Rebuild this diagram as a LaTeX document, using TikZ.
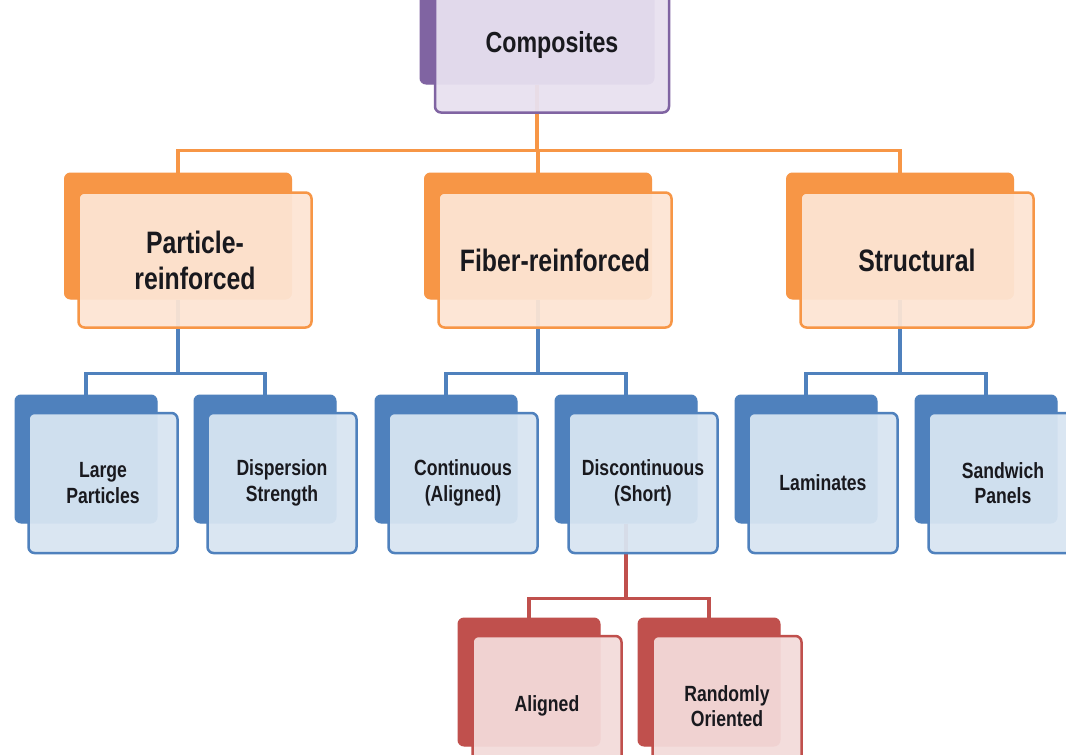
\documentclass[tikz,border=0pt]{standalone}
\usepackage{fontspec}
\setmainfont{Liberation Sans}[FakeStretch=0.8]
\definecolor{cpurple}{RGB}{128,100,162}
\definecolor{cpurplel}{RGB}{232,225,240}
\definecolor{corange}{RGB}{247,150,70}
\definecolor{corangel}{RGB}{253,229,212}
\definecolor{cblue}{RGB}{79,129,189}
\definecolor{cbluel}{RGB}{216,229,242}
\definecolor{cred}{RGB}{192,80,77}
\definecolor{credl}{RGB}{243,219,218}
\definecolor{ctext}{RGB}{25,25,30}
\usetikzlibrary{backgrounds,calc}

\begin{document}
\begin{tikzpicture}[x=1pt,y=-1pt,
    back/.style={rounded corners=6pt,fill=#1,draw=#1,line width=1pt,inner sep=0pt},
    front/.style 2 args={rounded corners=6pt,draw=#1,fill=#2,line width=2.5pt,
        fill opacity=0.94,text opacity=1,text=ctext,align=center,inner sep=0pt},
    bigback/.style={minimum width=227pt,minimum height=126pt},
    bigfront/.style={minimum width=233pt,minimum height=135pt,
        font=\fontsize{31}{36}\selectfont\bfseries},
    smallback/.style={minimum width=142pt,minimum height=128pt},
    smallfront/.style={minimum width=149pt,minimum height=140pt,
        font=\fontsize{22}{25.5}\selectfont\bfseries},
    link/.style={draw=#1,line width=3.5pt}]

    % Fond et cadre
    \begin{pgfonlayer}{background}
        \fill[white] (0,0) rectangle (1066,755);
    \end{pgfonlayer}
    \useasboundingbox (0,0) rectangle (1066,755);
    \clip (0,0) rectangle (1066,755);

    % Racine
    \node[back=cpurple,minimum width=234pt,minimum height=126pt] (cb) at (537,21) {};
    \node[front={cpurple}{cpurplel},minimum width=234pt,minimum height=135pt,
        font=\fontsize{29}{33}\selectfont\bfseries] (cb-t) at (552,45) {Composites};

    % Niveau 2 (orange)
    \foreach \nm/\x/\txt in {pb/178/{Particle-\\reinforced},
                             fb/538/{Fiber-reinforced},
                             sb/900/{Structural}}{
        \node[back=corange,bigback] (\nm) at (\x,236) {};
        \node[front={corange}{corangel},bigfront] (\nm-t) at (\x+17,260) {\txt};
        \begin{pgfonlayer}{background}
            \draw[link=corange] (cb.south) -- ++(0,66) -| (\nm.north);
        \end{pgfonlayer}
    }

    % Niveau 3 (bleu)
    \foreach \nm/\x/\up/\txt in {lp/86/pb/{Large\\Particles},
                                 ds/265/pb/{Dispersion\\Strength},
                                 ca/446/fb/{Continuous\\(Aligned)},
                                 dc/626/fb/{Discontinuous\\(Short)},
                                 lm/806/sb/{Laminates},
                                 sp/986/sb/{Sandwich\\Panels}}{
        \node[back=cblue,smallback] (\nm) at (\x,459) {};
        \node[front={cblue}{cbluel},smallfront] (\nm-t) at (\x+17,483) {\txt};
        \begin{pgfonlayer}{background}
            \draw[link=cblue] (\up.south) -- ++(0,74) -| (\nm.north);
        \end{pgfonlayer}
    }

    % Niveau 4 (rouge)
    \foreach \nm/\x/\txt in {al/529/{Aligned},
                             ro/709/{Randomly\\Oriented}}{
        \node[back=cred,smallback] (\nm) at (\x,682) {};
        \node[front={cred}{credl},smallfront] (\nm-t) at (\x+18,706) {\txt};
        \begin{pgfonlayer}{background}
            \draw[link=cred] (dc.south) -- ++(0,75) -| (\nm.north);
        \end{pgfonlayer}
    }

\end{tikzpicture}
\end{document}
